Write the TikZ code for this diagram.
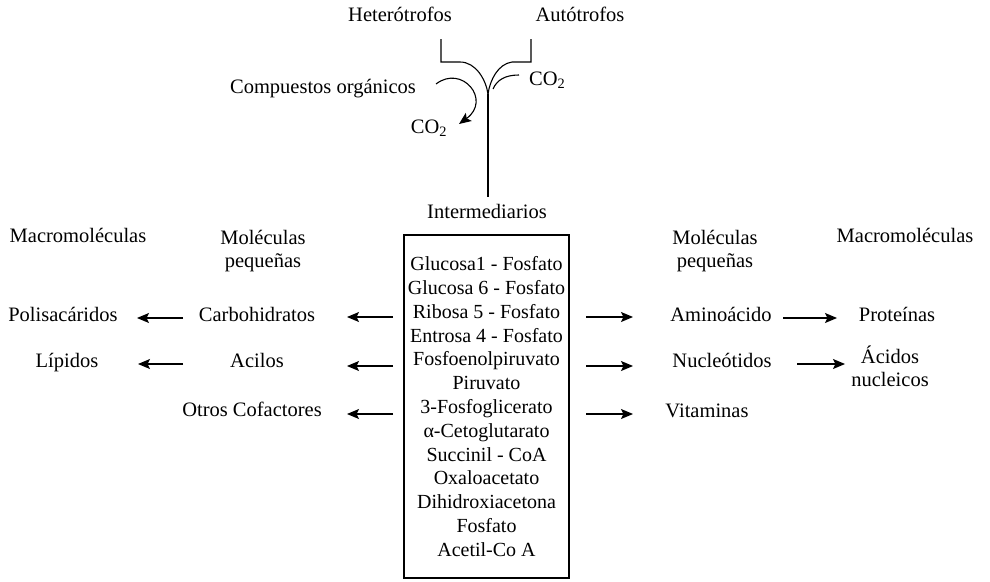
\documentclass[tikz,border=0pt]{standalone}
\usepackage{fontspec}
\setmainfont{Liberation Serif}
\usetikzlibrary{arrows.meta}
\begin{document}
\begin{tikzpicture}[x=1pt,y=-1pt,
  lbl/.style={inner sep=0pt, font=\fontsize{20.5}{24}\selectfont, text height=0.7em, text depth=0.2em, align=center},
  lbltwo/.style={inner sep=0pt, font=\fontsize{20.5}{23}\selectfont, align=center},
  ln/.style={line width=1.1pt},
  arr/.style={line width=1.1pt, -{Stealth[length=12pt,width=10pt,inset=2.5pt]}},
  boxst/.style={draw, line width=1.2pt, minimum width=165pt, minimum height=343pt, align=center, inner sep=0pt, font=\fontsize{20}{23.8}\selectfont}]
\useasboundingbox (0,0) rectangle (990,581);
% top labels
\node[lbl] (het) at (400,19) {Heterótrofos};
\node[lbl] (aut) at (580,19) {Autótrofos};
\node[lbl] (comp) at (323,91) {Compuestos orgánicos};
\node[lbl, anchor=west] (co2r) at (529,83) {CO\textsubscript{2}};
\node[lbl] (co2l) at (429,131) {CO\textsubscript{2}};
\node[lbl] (inter) at (487,216) {Intermediarios};
% Y junction
\coordinate (hl) at (441,39);
\coordinate (hc) at (441,62);
\coordinate (hh) at (460,62);
\coordinate (al) at (531,39);
\coordinate (ac) at (531,62);
\coordinate (ah) at (512,62);
\coordinate (j) at (488,94);
\coordinate (jb) at (488,197);
\draw[ln] (hl) -- (hc) -- (hh) .. controls (476,62) and (486,80) .. (j);
\draw[ln] (al) -- (ac) -- (ah) .. controls (498,64) and (490,80) .. (j);
\draw[ln] (j) -- (jb);
\coordinate (cs) at (436,84);
\coordinate (ce) at (459,124);
\draw[arr] (cs) .. controls (462,64) and (492,100) .. (ce);
\coordinate (rs) at (519,75);
\coordinate (re) at (493,89);
\draw[ln] (rs) .. controls (505,75) and (497,80) .. (re);
% box
\node[boxst] (box) at (486.5,406.5) {Glucosa1 - Fosfato\\Glucosa 6 - Fosfato\\Ribosa 5 - Fosfato\\Entrosa 4 - Fosfato\\Fosfoenolpiruvato\\Piruvato\\3-Fosfoglicerato\\α-Cetoglutarato\\Succinil - CoA\\Oxaloacetato\\Dihidroxiacetona\\Fosfato\\Acetil-Co A};
% headers
\node[lbl] (macl) at (78,240) {Macromoléculas};
\node[lbltwo] (moll) at (263,251) {Moléculas\\pequeñas};
\node[lbltwo] (molr) at (715,251) {Moléculas\\pequeñas};
\node[lbl] (macr) at (905,240) {Macromoléculas};
% left side
\node[lbl] (pol) at (63,319) {Polisacáridos};
\node[lbl] (carb) at (257,319) {Carbohidratos};
\node[lbl] (lip) at (67,365) {Lípidos};
\node[lbl] (acil) at (257,365) {Acilos};
\node[lbl] (otros) at (252,414) {Otros Cofactores};
% right side
\node[lbl] (amino) at (721,319) {Aminoácido};
\node[lbl] (prot) at (897,319) {Proteínas};
\node[lbl] (nucl) at (722,365) {Nucleótidos};
\node[lbltwo] (acid) at (890,366) {Ácidos\\nucleicos};
\node[lbl] (vit) at (707,415) {Vitaminas};
% arrow coordinates
\coordinate (bl1) at (393,317); \coordinate (cl1) at (347,317);
\coordinate (bl2) at (393,366); \coordinate (cl2) at (347,366);
\coordinate (bl3) at (393,414); \coordinate (cl3) at (347,414);
\coordinate (br1) at (586,317); \coordinate (cr1) at (633,317);
\coordinate (br2) at (586,366); \coordinate (cr2) at (633,366);
\coordinate (br3) at (586,414); \coordinate (cr3) at (633,414);
\coordinate (m1s) at (183,318); \coordinate (m1e) at (137,318);
\coordinate (m2s) at (183,364); \coordinate (m2e) at (138,364);
\coordinate (n1s) at (783,318); \coordinate (n1e) at (837,318);
\coordinate (n2s) at (797,364); \coordinate (n2e) at (845,364);
\draw[arr] (bl1) -- (cl1);
\draw[arr] (bl2) -- (cl2);
\draw[arr] (bl3) -- (cl3);
\draw[arr] (br1) -- (cr1);
\draw[arr] (br2) -- (cr2);
\draw[arr] (br3) -- (cr3);
\draw[arr] (m1s) -- (m1e);
\draw[arr] (m2s) -- (m2e);
\draw[arr] (n1s) -- (n1e);
\draw[arr] (n2s) -- (n2e);
\end{tikzpicture}
\end{document}
